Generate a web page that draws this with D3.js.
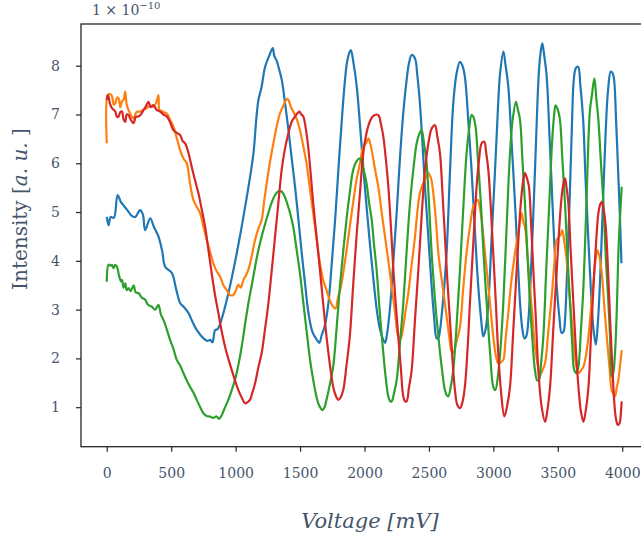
<!DOCTYPE html>
<html>
<head>
<meta charset="utf-8">
<script src="https://d3js.org/d3.v7.min.js"></script>
<style>
  body { margin: 0; background: #fff; }
  svg { display: block; }
  .tick text { font-family: "DejaVu Serif", serif; font-size: 14px; fill: #44546a; }
  .tick line { stroke: #262626; stroke-width: 1.2; }
</style>
</head>
<body>
<div id="chart"></div>
<script>
// readings, [voltage mV, intensity in units of 1e-10]
var blue = [[0,4.9],[14,4.73],[30,4.9],[55,4.88],[84,5.35],[109,5.21],[135,5.12],[168,5.01],[194,4.92],[221,4.9],[259,5.04],[280,4.95],[298,4.63],[337,4.87],[365,4.7],[401,4.5],[430,4.2],[453,3.88],[505,3.75],[540,3.4],[570,3.13],[600,3.05],[634,2.93],[665,2.75],[699,2.58],[751,2.41],[780,2.36],[802,2.38],[820,2.33],[841,2.58],[860,2.6],[893,2.82],[944,3.34],[1009,4.16],[1074,5.11],[1138,6.2],[1160,6.9],[1177,7.3],[1200,7.55],[1229,7.98],[1260,8.2],[1288,8.36],[1300,8.2],[1319,8.1],[1340,7.9],[1358,7.71],[1385,7.2],[1410,6.68],[1435,6.1],[1461,5.52],[1487,4.85],[1513,4.16],[1540,3.5],[1565,2.93],[1595,2.55],[1630,2.38],[1650,2.32],[1668,2.48],[1690,2.65],[1720,3.13],[1746,3.95],[1772,4.84],[1798,5.9],[1824,6.89],[1845,7.6],[1863,8.05],[1880,8.25],[1894,8.32],[1915,8.05],[1940,7.57],[1966,6.75],[1992,5.86],[2018,5.05],[2044,4.29],[2070,3.6],[2095,3.0],[2120,2.6],[2146,2.38],[2160,2.32],[2175,2.5],[2200,3.1],[2224,4.0],[2250,5.0],[2275,6.1],[2300,7.0],[2327,7.71],[2345,8.05],[2366,8.22],[2392,8.15],[2410,7.8],[2430,7.23],[2450,6.4],[2469,5.52],[2495,4.5],[2521,3.47],[2540,2.85],[2560,2.41],[2573,2.42],[2586,2.58],[2610,3.2],[2637,4.16],[2663,5.8],[2689,7.23],[2715,7.85],[2741,8.08],[2760,8.0],[2779,7.77],[2805,6.9],[2831,5.86],[2857,4.6],[2883,3.47],[2905,2.8],[2922,2.45],[2940,2.6],[2961,3.13],[2987,4.5],[3013,5.86],[3035,7.1],[3052,7.84],[3078,8.29],[3095,8.0],[3116,7.57],[3140,6.5],[3168,5.18],[3190,4.0],[3207,3.13],[3225,2.6],[3241,2.41],[3255,2.45],[3272,2.79],[3300,4.3],[3323,5.86],[3340,7.1],[3354,7.91],[3368,8.3],[3380,8.46],[3395,8.2],[3414,7.77],[3435,6.6],[3453,5.52],[3472,4.4],[3492,3.47],[3512,2.85],[3530,2.52],[3545,2.55],[3556,2.79],[3575,4.0],[3595,5.52],[3610,6.8],[3624,7.71],[3640,7.95],[3658,7.98],[3675,7.6],[3697,6.89],[3715,5.7],[3736,4.5],[3755,3.5],[3775,2.65],[3795,2.28],[3810,2.7],[3826,3.47],[3848,5.0],[3870,6.55],[3890,7.5],[3911,7.88],[3925,7.85],[3937,7.71],[3952,6.9],[3968,5.86],[3982,4.9],[3994,3.95]];

var orange = [[0,6.41],[8,7.4],[25,7.42],[40,7.38],[55,7.2],[66,7.23],[80,7.35],[92,7.33],[105,7.15],[118,7.27],[130,7.3],[143,7.47],[155,7.2],[169,7.09],[185,7.0],[208,6.92],[230,7.05],[259,7.06],[285,7.1],[311,7.13],[335,7.18],[362,7.16],[385,7.25],[401,7.4],[407,7.1],[414,7.09],[440,7.05],[466,7.02],[490,6.9],[517,6.75],[545,6.5],[569,6.27],[595,6.1],[621,6.0],[645,5.6],[672,5.25],[700,5.1],[724,4.98],[750,4.7],[776,4.43],[800,4.2],[827,3.95],[850,3.8],[879,3.68],[905,3.5],[931,3.4],[955,3.3],[982,3.3],[1000,3.38],[1021,3.51],[1040,3.45],[1060,3.61],[1080,3.7],[1099,3.82],[1125,4.1],[1151,4.43],[1175,4.65],[1202,4.84],[1220,5.2],[1241,5.59],[1265,6.0],[1293,6.41],[1318,6.75],[1344,7.02],[1365,7.15],[1383,7.26],[1400,7.32],[1409,7.3],[1430,7.15],[1447,7.06],[1475,6.9],[1499,6.68],[1525,6.35],[1550,6.0],[1575,5.5],[1602,4.98],[1628,4.45],[1654,3.95],[1680,3.6],[1705,3.4],[1730,3.2],[1757,3.06],[1775,3.02],[1796,3.27],[1815,3.45],[1835,3.75],[1860,4.2],[1886,4.7],[1912,5.2],[1938,5.66],[1965,6.0],[1990,6.34],[2010,6.4],[2030,6.51],[2045,6.4],[2056,6.27],[2080,5.9],[2107,5.52],[2133,5.0],[2159,4.5],[2185,4.0],[2211,3.47],[2237,2.95],[2262,2.45],[2280,2.4],[2301,2.65],[2320,3.0],[2340,3.34],[2365,3.9],[2392,4.5],[2410,5.0],[2430,5.39],[2450,5.55],[2469,5.66],[2495,5.8],[2515,5.7],[2534,5.39],[2555,4.8],[2573,4.16],[2600,3.6],[2624,3.13],[2655,2.5],[2675,2.15],[2689,2.11],[2710,2.3],[2741,2.65],[2765,3.4],[2792,4.16],[2818,4.7],[2844,5.11],[2860,5.2],[2878,5.25],[2895,5.1],[2909,4.84],[2930,4.3],[2948,3.82],[2975,3.1],[2999,2.45],[3020,2.05],[3038,1.9],[3058,1.92],[3077,1.97],[3095,2.4],[3116,2.93],[3140,3.6],[3168,4.16],[3195,4.6],[3220,4.98],[3232,4.8],[3245,4.7],[3265,4.1],[3284,3.47],[3305,2.8],[3323,2.24],[3342,1.9],[3362,1.66],[3380,1.75],[3401,1.9],[3428,2.6],[3453,3.27],[3472,3.9],[3492,4.43],[3512,4.5],[3525,4.55],[3535,4.63],[3550,4.4],[3569,4.02],[3588,3.4],[3608,2.79],[3635,2.0],[3660,1.7],[3680,1.75],[3699,1.83],[3718,2.05],[3738,2.45],[3757,3.0],[3776,3.54],[3792,4.0],[3807,4.22],[3822,4.1],[3841,3.75],[3860,3.1],[3880,2.45],[3900,1.85],[3918,1.35],[3930,1.28],[3944,1.22],[3957,1.4],[3970,1.56],[3983,1.85],[3996,2.17]];

var green = [[0,3.57],[14,3.92],[30,3.9],[40,3.92],[53,3.85],[65,3.92],[79,3.88],[95,3.7],[110,3.58],[118,3.61],[130,3.45],[143,3.54],[155,3.4],[169,3.44],[185,3.38],[208,3.5],[225,3.35],[246,3.34],[270,3.25],[298,3.2],[320,3.1],[349,3.06],[375,3.0],[401,3.1],[420,2.9],[440,2.79],[465,2.6],[491,2.38],[517,2.2],[543,1.97],[570,1.85],[595,1.7],[620,1.55],[646,1.42],[672,1.3],[698,1.15],[725,1.0],[749,0.88],[775,0.82],[801,0.81],[825,0.78],[853,0.81],[870,0.76],[891,0.83],[915,0.98],[943,1.15],[970,1.35],[995,1.56],[1020,1.85],[1047,2.24],[1073,2.7],[1099,3.13],[1125,3.5],[1151,3.88],[1175,4.2],[1202,4.5],[1228,4.75],[1254,4.98],[1280,5.2],[1306,5.35],[1330,5.42],[1357,5.42],[1375,5.35],[1396,5.21],[1420,5.0],[1447,4.7],[1472,4.25],[1499,3.75],[1525,3.15],[1550,2.58],[1576,2.0],[1602,1.56],[1620,1.3],[1641,1.08],[1660,0.98],[1675,0.94],[1690,1.0],[1705,1.15],[1730,1.45],[1757,1.83],[1783,2.6],[1809,3.47],[1835,4.2],[1860,4.84],[1886,5.4],[1912,5.86],[1940,6.05],[1964,6.1],[1990,5.9],[2015,5.6],[2035,5.2],[2056,4.84],[2075,4.3],[2094,3.82],[2120,2.9],[2146,2.11],[2165,1.6],[2185,1.22],[2200,1.12],[2211,1.12],[2230,1.3],[2250,1.56],[2275,2.3],[2301,3.13],[2327,4.2],[2353,5.18],[2380,5.9],[2405,6.41],[2425,6.6],[2443,6.68],[2462,6.4],[2482,6.0],[2500,5.2],[2521,4.16],[2547,3.2],[2573,2.45],[2600,1.8],[2624,1.35],[2637,1.25],[2650,1.22],[2668,1.4],[2689,1.76],[2715,2.7],[2741,3.82],[2765,5.0],[2792,6.2],[2812,6.7],[2831,6.99],[2845,6.95],[2862,6.75],[2880,6.1],[2903,5.18],[2925,4.1],[2948,3.13],[2975,2.1],[2999,1.42],[3015,1.35],[3038,1.7],[3058,2.3],[3077,3.13],[3103,4.7],[3129,6.2],[3150,6.9],[3175,7.26],[3190,7.1],[3207,6.89],[3225,6.1],[3245,5.18],[3265,4.1],[3284,3.13],[3305,2.3],[3323,1.76],[3340,1.55],[3354,1.56],[3370,1.9],[3388,2.45],[3410,3.8],[3434,5.18],[3455,6.4],[3472,7.0],[3483,7.19],[3500,7.1],[3517,6.89],[3535,6.1],[3556,5.18],[3575,4.1],[3595,3.13],[3612,2.3],[3628,1.76],[3645,1.7],[3660,1.83],[3680,2.6],[3699,3.47],[3720,5.0],[3738,6.5],[3750,7.1],[3765,7.4],[3784,7.74],[3800,7.3],[3815,6.89],[3835,6.0],[3854,5.18],[3872,4.1],[3893,3.13],[3906,2.4],[3918,1.63],[3930,1.7],[3944,2.11],[3958,3.0],[3970,4.16],[3983,4.9],[3996,5.52]];

var red = [[0,7.3],[7,7.4],[14,7.36],[27,7.2],[40,7.13],[53,7.1],[66,7.06],[80,6.95],[92,6.96],[105,7.05],[118,7.06],[130,6.9],[143,6.85],[155,7.0],[169,6.99],[185,6.9],[208,6.82],[225,6.95],[246,6.96],[265,7.0],[285,7.09],[300,7.15],[324,7.26],[340,7.15],[362,7.19],[385,7.1],[414,7.06],[440,7.0],[466,6.96],[490,6.85],[517,6.68],[545,6.62],[569,6.58],[590,6.45],[608,6.41],[635,6.2],[659,5.93],[685,5.65],[711,5.39],[737,5.05],[763,4.7],[790,4.2],[814,3.75],[840,3.3],[866,2.93],[892,2.55],[918,2.24],[945,1.98],[970,1.76],[995,1.55],[1021,1.35],[1047,1.2],[1073,1.08],[1090,1.1],[1111,1.15],[1130,1.3],[1151,1.49],[1175,1.8],[1202,2.11],[1228,2.6],[1254,3.13],[1280,3.8],[1306,4.5],[1332,5.2],[1357,5.86],[1383,6.3],[1409,6.61],[1435,6.85],[1461,6.96],[1478,7.02],[1494,7.06],[1510,7.0],[1525,6.96],[1545,6.7],[1563,6.34],[1582,5.8],[1602,5.18],[1628,4.5],[1654,3.82],[1680,3.1],[1705,2.45],[1730,1.9],[1757,1.42],[1775,1.25],[1796,1.15],[1815,1.2],[1835,1.35],[1860,1.85],[1886,2.45],[1912,3.5],[1938,4.5],[1965,5.4],[1990,6.2],[2010,6.55],[2036,6.82],[2060,6.95],[2080,6.99],[2095,7.0],[2110,6.98],[2128,6.8],[2146,6.55],[2165,6.1],[2185,5.52],[2205,4.7],[2224,3.82],[2243,3.1],[2262,2.45],[2282,1.8],[2301,1.22],[2315,1.12],[2327,1.12],[2345,1.4],[2366,1.76],[2392,2.8],[2418,3.82],[2443,4.9],[2469,5.86],[2495,6.4],[2516,6.68],[2530,6.75],[2547,6.78],[2565,6.55],[2586,6.2],[2605,5.4],[2624,4.5],[2643,3.6],[2663,2.79],[2682,2.0],[2702,1.35],[2720,1.05],[2741,0.98],[2760,1.1],[2779,1.42],[2800,2.2],[2818,3.13],[2845,4.4],[2870,5.52],[2890,6.1],[2909,6.41],[2929,6.44],[2945,6.2],[2961,5.86],[2980,5.1],[2999,4.16],[3020,3.1],[3038,2.11],[3060,1.3],[3085,0.81],[3105,1.0],[3129,1.42],[3155,2.6],[3181,3.82],[3200,4.7],[3220,5.39],[3235,5.7],[3245,5.8],[3260,5.7],[3276,5.52],[3292,4.8],[3310,3.82],[3330,2.8],[3349,1.76],[3375,1.0],[3401,0.7],[3420,0.95],[3440,1.42],[3465,2.6],[3492,3.82],[3512,4.7],[3530,5.32],[3545,5.6],[3556,5.69],[3568,5.5],[3582,5.18],[3600,4.2],[3621,3.13],[3640,2.2],[3660,1.42],[3680,0.9],[3699,0.7],[3718,0.95],[3738,1.42],[3760,2.6],[3784,3.82],[3800,4.5],[3815,4.98],[3828,5.15],[3841,5.21],[3856,5.05],[3872,4.7],[3890,3.8],[3906,2.79],[3922,1.9],[3939,1.08],[3952,0.75],[3965,0.64],[3975,0.65],[3983,0.7],[3990,0.9],[3996,1.12]];

var series = [blue, orange, green, red];
var colors = ["#1f77b4", "#ff7f0e", "#2ca02c", "#d62728"];
var xTicks = [0, 500, 1000, 1500, 2000, 2500, 3000, 3500, 4000];
var yTicks = [1, 2, 3, 4, 5, 6, 7, 8];

var width = 641, height = 537;
var plotLeft = 81, plotTop = 24, plotRight = 648, plotBottom = 446.7;

var svg = d3.select("#chart").append("svg")
    .attr("width", width)
    .attr("height", height);

var x = d3.scaleLinear().domain([-200, 4200]).range([plotLeft, plotRight]);
var y = d3.scaleLinear().domain([0.19, 8.855]).range([plotBottom, plotTop]);

svg.append("clipPath").attr("id", "clip")
  .append("rect")
    .attr("x", plotLeft).attr("y", plotTop)
    .attr("width", plotRight - plotLeft).attr("height", plotBottom - plotTop);

var line = d3.line()
    .x(function(d) { return x(d[0]); })
    .y(function(d) { return y(d[1]); })
    .curve(d3.curveCatmullRom.alpha(0.5));

svg.append("g").attr("clip-path", "url(#clip)")
  .selectAll("path")
  .data(series)
  .enter().append("path")
    .attr("d", line)
    .attr("fill", "none")
    .attr("stroke", function(d, i) { return colors[i]; })
    .attr("stroke-width", 2.2)
    .attr("stroke-linejoin", "round");

// axes
var xAxis = svg.append("g")
    .attr("transform", "translate(0," + plotBottom + ")")
    .call(d3.axisBottom(x).tickValues(xTicks).tickFormat(d3.format("d")).tickSize(5).tickPadding(16));
xAxis.select(".domain").remove();

var yAxis = svg.append("g")
    .attr("transform", "translate(" + plotLeft + ",0)")
    .call(d3.axisLeft(y).tickValues(yTicks).tickSize(5).tickPadding(16));
yAxis.select(".domain").remove();

// spines
svg.append("rect")
    .attr("x", plotLeft).attr("y", plotTop)
    .attr("width", plotRight - plotLeft).attr("height", plotBottom - plotTop)
    .attr("fill", "none")
    .attr("stroke", "#262626")
    .attr("stroke-width", 1.3);

// offset text
var off = svg.append("text")
    .attr("x", 92).attr("y", 15)
    .style("font-family", "DejaVu Serif, serif")
    .style("font-size", "14px")
    .style("fill", "#44546a")
    .text("1 \u00d7 10");
off.append("tspan")
    .attr("dy", -6)
    .style("font-size", "10px")
    .text("\u221210");

// axis labels
var yl = svg.append("text")
    .attr("transform", "translate(27,209) rotate(-90)")
    .attr("text-anchor", "middle")
    .style("font-family", "DejaVu Serif, serif")
    .style("font-size", "20px")
    .style("fill", "#44546a");
yl.append("tspan").text("Intensity [");
yl.append("tspan").style("font-style", "italic").text("a. u.");
yl.append("tspan").text(" ]");

svg.append("text")
    .attr("x", 370).attr("y", 528)
    .attr("text-anchor", "middle")
    .style("font-family", "DejaVu Serif, serif")
    .style("font-size", "21px")
    .style("font-style", "italic")
    .style("fill", "#44546a")
    .text("Voltage [mV]");
</script>
</body>
</html>
